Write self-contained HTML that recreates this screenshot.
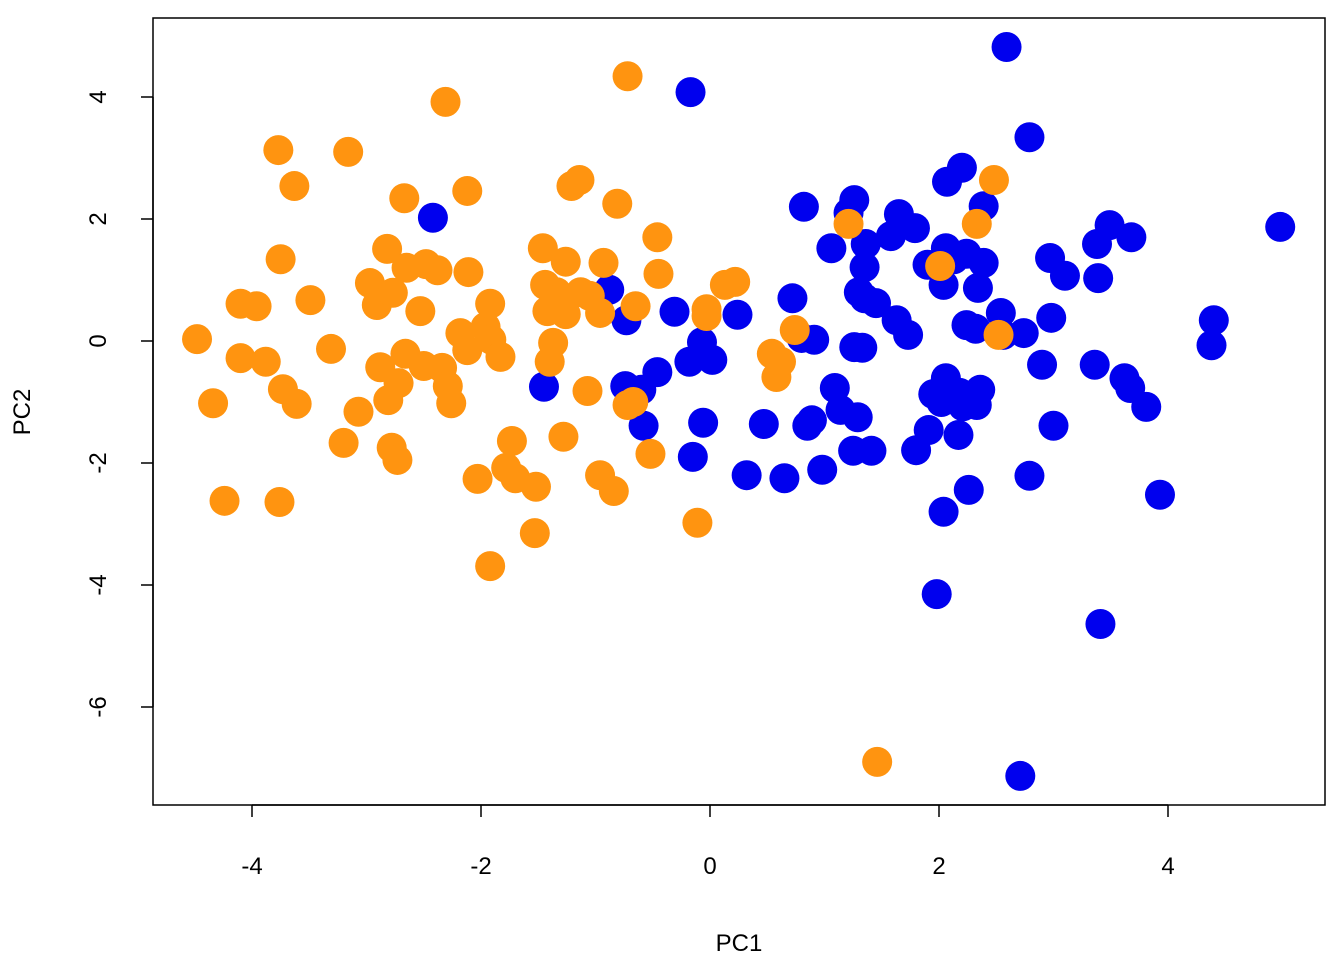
<!DOCTYPE html>
<html><head><meta charset="utf-8"><style>
html,body{margin:0;padding:0;background:#fff;}
svg{display:block;font-family:"Liberation Sans",Arial,sans-serif;}
</style></head><body>
<svg id="chart" width="1344" height="960" viewBox="0 0 1344 960"></svg>
<script>
const xTicks=[-4,-2,0,2,4];
const yTicks=[-6,-4,-2,0,2,4];
const blueX=[-2.42,-1.45,-0.88,-0.73,-0.74,-0.60,-0.58,-0.46,-0.31,-0.18,-0.17,-0.15,-0.07,-0.06,0.02,0.24,0.32,0.47,0.65,0.72,0.82,0.80,0.85,0.91,0.89,0.98,1.06,1.09,1.14,1.21,1.26,1.26,1.29,1.25,1.33,1.35,1.36,1.30,1.35,1.41,1.45,1.58,1.63,1.65,1.73,1.79,1.80,1.90,1.91,1.95,2.02,2.04,1.98,2.04,2.06,2.06,2.07,2.13,2.18,2.17,2.21,2.20,2.24,2.24,2.30,2.32,2.33,2.26,2.34,2.36,2.39,2.39,2.54,2.56,2.59,2.71,2.74,2.79,2.79,2.90,2.97,2.98,3.00,3.10,3.36,3.38,3.39,3.41,3.49,3.62,3.67,3.68,3.81,3.93,4.38,4.40,4.98];
const blueY=[2.02,-0.75,0.84,0.34,-0.74,-0.80,-1.39,-0.51,0.48,-0.34,4.08,-1.90,-0.02,-1.34,-0.31,0.43,-2.20,-1.36,-2.25,0.70,2.20,0.05,-1.39,0.02,-1.30,-2.11,1.52,-0.77,-1.13,2.10,2.31,-0.10,-1.25,-1.80,-0.11,1.21,1.59,0.80,0.70,-1.80,0.62,1.72,0.34,2.08,0.10,1.85,-1.79,1.25,-1.46,-0.87,-1.00,-2.80,-4.15,0.92,1.52,-0.61,2.61,1.34,-0.85,-1.54,-1.07,2.84,0.26,1.43,-1.00,0.20,-1.05,-2.44,0.87,-0.80,2.21,1.28,0.46,0.10,4.82,-7.13,0.13,-2.21,3.34,-0.39,1.36,0.38,-1.39,1.07,-0.39,1.59,1.03,-4.64,1.90,-0.61,-0.77,1.70,-1.08,-2.52,-0.07,0.34,1.87];
const orangeX=[-4.48,-4.34,-4.24,-4.10,-4.10,-3.96,-3.88,-3.77,-3.75,-3.73,-3.76,-3.63,-3.61,-3.49,-3.31,-3.20,-3.16,-3.07,-2.97,-2.91,-2.88,-2.82,-2.81,-2.77,-2.78,-2.72,-2.73,-2.67,-2.66,-2.65,-2.53,-2.50,-2.48,-2.38,-2.34,-2.31,-2.29,-2.26,-2.18,-2.12,-2.11,-2.12,-2.03,-1.96,-1.92,-1.91,-1.92,-1.83,-1.78,-1.73,-1.70,-1.52,-1.53,-1.46,-1.42,-1.40,-1.37,-1.44,-1.34,-1.31,-1.28,-1.26,-1.26,-1.21,-1.14,-1.13,-1.07,-1.05,-0.96,-0.96,-0.93,-0.84,-0.81,-0.72,-0.72,-0.67,-0.65,-0.52,-0.46,-0.45,-0.11,-0.03,-0.03,0.13,0.22,0.54,0.58,0.62,0.74,1.21,1.46,2.01,2.33,2.48,2.52];
const orangeY=[0.03,-1.02,-2.62,0.61,-0.28,0.57,-0.34,3.13,1.34,-0.79,-2.64,2.54,-1.03,0.67,-0.13,-1.67,3.10,-1.16,0.95,0.59,-0.43,1.51,-0.97,0.79,-1.75,-0.69,-1.95,2.34,-0.21,1.20,0.49,-0.41,1.26,1.16,-0.44,3.92,-0.74,-1.02,0.13,2.46,1.13,-0.15,-2.26,0.23,0.61,0.02,-3.69,-0.26,-2.08,-1.64,-2.25,-2.39,-3.15,1.52,0.49,-0.34,-0.03,0.92,0.80,0.70,-1.57,1.30,0.44,2.54,2.64,0.80,-0.82,0.74,0.46,-2.20,1.28,-2.46,2.25,4.34,-1.05,-1.00,0.57,-1.85,1.70,1.10,-2.98,0.52,0.41,0.92,0.97,-0.21,-0.59,-0.34,0.18,1.92,-6.90,1.23,1.92,2.64,0.10];

const NS='http://www.w3.org/2000/svg';
const svg=document.getElementById('chart');
const L=153,T=18,R=1325,B=805;
function sx(v){return 710+114.5*v;}
function sy(v){return 341-61*v;}
function mk(tag,attrs,parent){const e=document.createElementNS(NS,tag);for(const k in attrs)e.setAttribute(k,attrs[k]);(parent||svg).appendChild(e);return e;}

const pts=mk('g',{});


blueX.forEach((x,i)=>{
  const c=mk('circle',{cx:sx(x),cy:sy(blueY[i]),r:15,fill:'#0000EE'},pts);
  
  
});
orangeX.forEach((x,i)=>{
  const c=mk('circle',{cx:sx(x),cy:sy(orangeY[i]),r:15,fill:'#FF9410'},pts);
  
  
});

const box=mk('rect',{x:L,y:T,width:R-L,height:B-T,fill:'none',stroke:'#000','stroke-width':1.5});



const xa=mk('g',{});


mk('line',{x1:sx(xTicks[0]),x2:sx(xTicks[xTicks.length-1]),y1:B,y2:B,stroke:'#000','stroke-width':1.5},xa);
xTicks.forEach(t=>{
  mk('line',{x1:sx(t),x2:sx(t),y1:B,y2:B+12,stroke:'#000','stroke-width':1.5},xa);
  const tx=mk('text',{x:sx(t),y:874,'font-size':24,'text-anchor':'middle'},xa);
  tx.textContent=t;
  
  
});
const ya=mk('g',{});


mk('line',{x1:L,x2:L,y1:sy(yTicks[0]),y2:sy(yTicks[yTicks.length-1]),stroke:'#000','stroke-width':1.5},ya);
yTicks.forEach(t=>{
  mk('line',{x1:L-12,x2:L,y1:sy(t),y2:sy(t),stroke:'#000','stroke-width':1.5},ya);
  const tx=mk('text',{x:0,y:0,'font-size':24,'text-anchor':'middle',transform:`translate(106,${sy(t)}) rotate(-90)`},ya);
  tx.textContent=t;
  
  
});
const xt=mk('text',{x:739,y:951,'font-size':24,'text-anchor':'middle'});
xt.textContent='PC1';


const yt=mk('text',{x:0,y:0,'font-size':24,'text-anchor':'middle',transform:'translate(30,412) rotate(-90)'});
yt.textContent='PC2';


</script>
</body></html>
